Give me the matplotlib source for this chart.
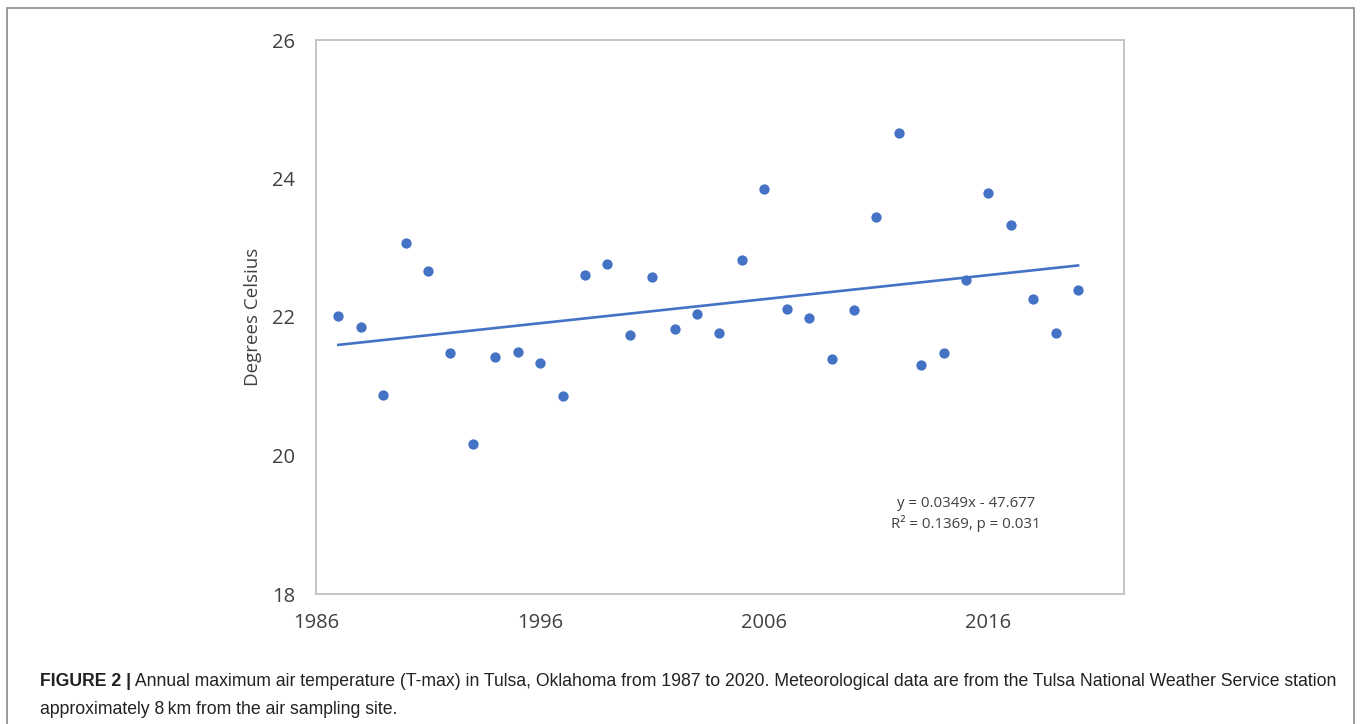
import numpy as np
import matplotlib
matplotlib.use("Agg")
import matplotlib.pyplot as plt
from matplotlib.patches import Rectangle

years = list(range(1987, 2021))
tmax = [22.01, 21.86, 20.88, 23.07, 22.66, 21.48, 20.16, 21.42, 21.50, 21.34,
        20.86, 22.61, 22.77, 21.74, 22.58, 21.83, 22.04, 21.77, 22.82, 23.85,
        22.12, 21.99, 21.39, 22.10, 23.44, 24.66, 21.31, 21.48, 22.53, 23.79,
        23.33, 22.26, 21.77, 22.39]
x_ticks = [1986, 1996, 2006, 2016]
y_ticks = [18, 20, 22, 24, 26]
eq_text = "y = 0.0349x - 47.677"
r2_text = "R² = 0.1369, p = 0.031"
ylabel = "Degrees Celsius"
cap_bold = "FIGURE 2 |"
cap_line1 = (" Annual maximum air temperature (T-max) in Tulsa, Oklahoma from 1987 to 2020. "
             "Meteorological data are from the Tulsa National Weather Service station")
cap_line2 = "approximately 8\u2009km from the air sampling site."

blue = "#4472C4"
W, H = 1360, 724
fig = plt.figure(figsize=(W / 100, H / 100), dpi=100)

# outer frame (open at the bottom edge of the image)
fig.patches.append(Rectangle((7 / W, -10 / H), (1354 - 7) / W, (H - 8 + 10) / H,
                             transform=fig.transFigure, fill=False,
                             edgecolor="#8a8a8a", linewidth=1.2))

ax = fig.add_axes([316 / W, 1 - 594 / H, (1124 - 316) / W, (594 - 40) / H])
ax.scatter(years, tmax, s=55, color=blue, zorder=3, linewidths=0)
coef = np.polyfit(years, tmax, 1)
xf = np.array([years[0], years[-1]], dtype=float)
ax.plot(xf, np.polyval(coef, xf), color=blue, linewidth=1.9, zorder=2)

ax.set_xlim(1986.05, 2022.05)
ax.set_ylim(18, 26)
ax.set_xticks(x_ticks)
ax.set_yticks(y_ticks)
tick_font = dict(family=["Open Sans", "DejaVu Sans"], size=14.5, color="#404040")
ax.set_xticklabels([str(t) for t in x_ticks], **tick_font)
ax.set_yticklabels([str(t) for t in y_ticks], **tick_font)
ax.tick_params(length=0, pad=14)
ax.tick_params(axis="y", pad=15)
for s in ax.spines.values():
    s.set_color("#c0c0c0")
    s.set_linewidth(1.3)
ax.set_ylabel(ylabel, family=["Open Sans", "DejaVu Sans"], size=13.5, color="#404040", labelpad=7)

ax.text(0.804, 0.164, eq_text, transform=ax.transAxes, ha="center", va="center",
        family=["Open Sans", "DejaVu Sans"], size=10.8, color="#404040")
ax.text(0.804, 0.128, r2_text, transform=ax.transAxes, ha="center", va="center",
        family=["Open Sans", "DejaVu Sans"], size=10.8, color="#404040")

# caption
cap_font = ["Liberation Sans", "DejaVu Sans"]
tb = fig.text(40 / W, 1 - 681 / H, cap_bold, family=cap_font, weight="bold",
              size=12.7, color="#222222", va="center", ha="left")
fig.canvas.draw()
bb = tb.get_window_extent()
fig.text(bb.x1 / W, 1 - 681 / H, cap_line1, family=cap_font, size=12.7,
         color="#222222", va="center", ha="left")
fig.text(40 / W, 1 - 710 / H, cap_line2, family=cap_font, size=12.7,
         color="#222222", va="center", ha="left")

fig.savefig("out.png", dpi=100)
